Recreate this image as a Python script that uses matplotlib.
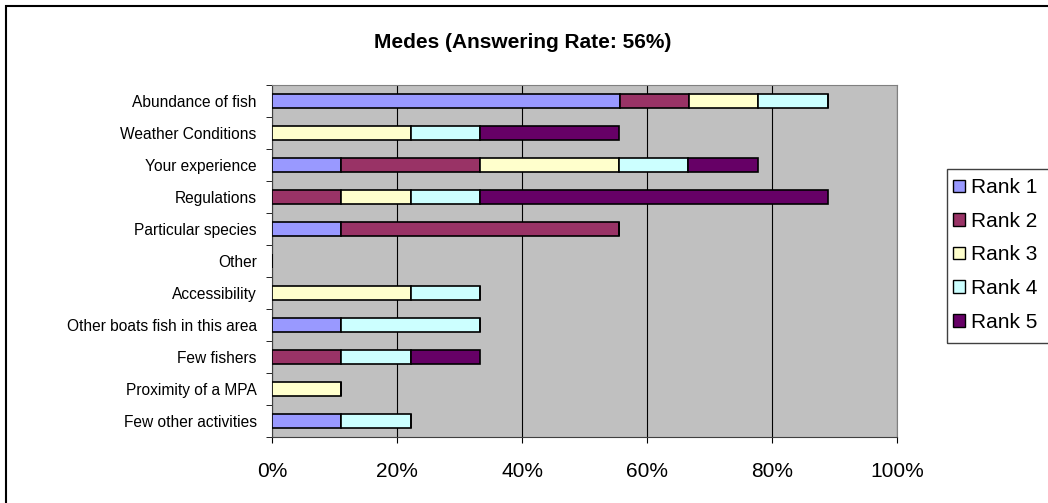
import numpy as np
import matplotlib.pyplot as plt
from matplotlib.patches import Rectangle, Patch

plt.rcParams['font.family'] = ['Liberation Sans', 'DejaVu Sans']

categories = ["Abundance of fish", "Weather Conditions", "Your experience", "Regulations",
              "Particular species", "Other", "Accessibility", "Other boats fish in this area",
              "Few fishers", "Proximity of a MPA", "Few other activities"]
series_names = ["Rank 1", "Rank 2", "Rank 3", "Rank 4", "Rank 5"]
colors = ["#9999FF", "#993366", "#FFFFCC", "#CCFFFF", "#660066"]

# percent of respondents (n = 9)
rank1 = [55.6, 0, 11.1, 0, 11.1, 0, 0, 11.1, 0, 0, 11.1]
rank2 = [11.1, 0, 22.2, 11.1, 44.4, 0, 0, 0, 11.1, 0, 0]
rank3 = [11.1, 22.2, 22.2, 11.1, 0, 0, 22.2, 0, 0, 11.1, 0]
rank4 = [11.1, 11.1, 11.1, 11.1, 0, 0, 11.1, 22.2, 11.1, 0, 11.1]
rank5 = [0, 22.2, 11.1, 55.6, 0, 0, 0, 0, 11.1, 0, 0]
series = [rank1, rank2, rank3, rank4, rank5]

fig = plt.figure(figsize=(10.48, 5.03), dpi=100)
W, H = 1048, 503
ax = fig.add_axes([272 / W, 1 - 437 / H, (897 - 272) / W, (437 - 85) / H])
ax.set_facecolor("#C0C0C0")

y = np.arange(len(categories))
left = np.zeros(len(categories))
for vals, name, c in zip(series, series_names, colors):
    vals = np.array(vals)
    ax.barh(y, vals, left=left, height=0.45, color=c, edgecolor="black",
            linewidth=1.2, label=name, zorder=3)
    left += vals

ax.set_xlim(0, 100)
ax.set_ylim(len(categories) - 0.5, -0.5)
ax.set_xticks(np.arange(0, 101, 20))
ax.set_xticklabels([f"{v}%" for v in range(0, 101, 20)], fontsize=15)
ax.set_yticks(y)
ax.set_yticklabels(categories, fontsize=11.2)
ax.tick_params(axis="y", length=0, pad=11)
ax.set_yticks(np.arange(-0.5, len(categories)), minor=True)
ax.tick_params(axis="y", which="minor", length=4, direction="out")
ax.tick_params(axis="x", length=4, direction="out", pad=14)
ax.grid(axis="x", color="black", linewidth=0.8, zorder=1)
for s in ["top", "right"]:
    ax.spines[s].set_color("#808080")
ax.spines["left"].set_color("#404040")
ax.spines["bottom"].set_color("#404040")

fig.text(523 / W, 1 - 42 / H, "Medes (Answering Rate: 56%)", ha="center", va="center",
         fontsize=15, fontweight="bold")

# outer chart frame
fig.patches.append(Rectangle((6 / W, -0.1), 1.2, 1 - 6 / H + 0.1, transform=fig.transFigure,
                             fill=False, edgecolor="black", linewidth=1.5))
# legend frame
fig.patches.append(Rectangle((947 / W, 1 - 343 / H), 0.2, (343 - 169) / H,
                             transform=fig.transFigure, fill=False, edgecolor="#404040",
                             linewidth=1))
handles = [Patch(facecolor=c, edgecolor="black", label=n) for c, n in zip(colors, series_names)]
fig.legend(handles=handles, loc="upper left", bbox_to_anchor=(945 / W, 1 - 170 / H),
           frameon=False, fontsize=15, handlelength=0.55, handleheight=0.55,
           handletextpad=0.3, labelspacing=0.7, borderaxespad=0)

fig.savefig("out.png", dpi=100)
